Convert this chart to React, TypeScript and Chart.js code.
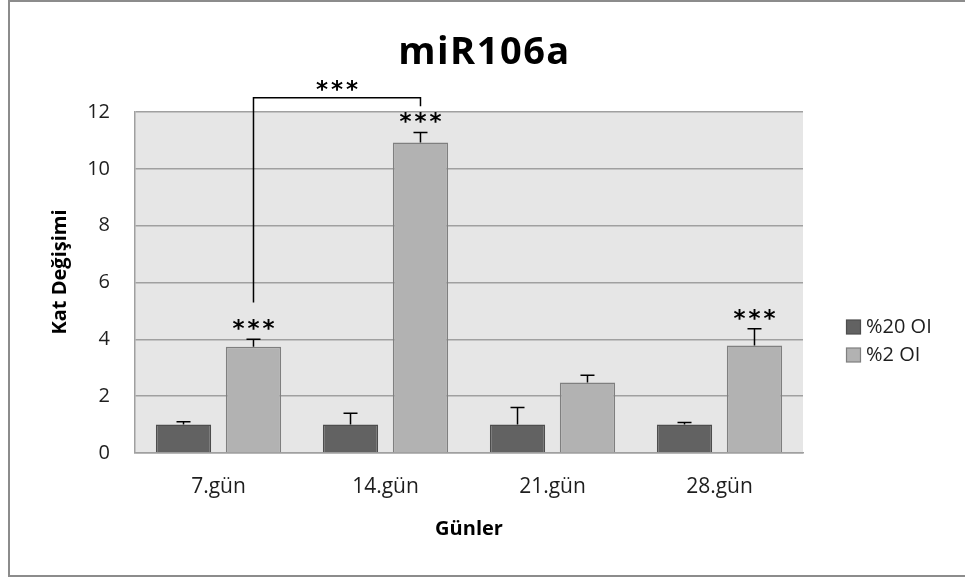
import { useEffect, useRef } from "react";
import { Chart, registerables } from "chart.js";

Chart.register(...registerables);

// Fold change of miR106a at each time point
const categories = ["7.gün", "14.gün", "21.gün", "28.gün"];
const seriesNames = ["%20 OI", "%2 OI"];
const normoxiaValues = [1.0, 1.0, 1.0, 1.0];
const hypoxiaValues = [3.74, 10.93, 2.48, 3.78];
const normoxiaErrors = [0.1, 0.4, 0.6, 0.07];
const hypoxiaErrors = [0.26, 0.35, 0.26, 0.59];
const hypoxiaSignificance = ["***", "***", "", "***"];

// Comparison bracket between two hypoxia bars (values in fold-change units)
const bracketFrom = 0;
const bracketTo = 1;
const bracketLabel = "***";
const bracketTop = 12.5;
const bracketLeftFoot = 5.3;
const bracketRightFoot = 12.2;

const yMin = 0;
const yMax = 12;
const yStep = 2;

const chartTitle = "miR106a";
const xTitle = "Günler";
const yTitle = "Kat Değişimi";

const FONT = "'Open Sans', sans-serif";
const darkFill = "#626262";
const lightFill = "#b2b2b2";

const decorations = {
  id: "decorations",
  beforeDraw(chart: any) {
    const { ctx, chartArea } = chart;
    ctx.save();
    ctx.fillStyle = "#e6e6e6";
    ctx.fillRect(chartArea.left, chartArea.top, chartArea.right - chartArea.left, chartArea.bottom - chartArea.top);
    ctx.restore();
  },
  afterDatasetsDraw(chart: any) {
    const { ctx } = chart;
    const y = chart.scales.y;
    const errs = [normoxiaErrors, hypoxiaErrors];
    const vals = [normoxiaValues, hypoxiaValues];
    ctx.save();
    ctx.strokeStyle = "#000";
    ctx.lineWidth = 1.5;
    for (let d = 0; d < 2; d++) {
      const meta = chart.getDatasetMeta(d);
      meta.data.forEach((bar: any, i: number) => {
        const yb = y.getPixelForValue(vals[d][i]);
        const yt = y.getPixelForValue(vals[d][i] + errs[d][i]);
        ctx.beginPath();
        ctx.moveTo(bar.x, yb);
        ctx.lineTo(bar.x, yt);
        ctx.moveTo(bar.x - 7, yt);
        ctx.lineTo(bar.x + 7, yt);
        ctx.stroke();
      });
    }

    // significance stars above the hypoxia bars
    ctx.fillStyle = "#000";
    ctx.font = "bold 23px 'DejaVu Sans'";
    ctx.textAlign = "center";
    ctx.textBaseline = "middle";
    (ctx as any).letterSpacing = "3px";
    const meta1 = chart.getDatasetMeta(1);
    meta1.data.forEach((bar: any, i: number) => {
      const s = hypoxiaSignificance[i];
      if (!s) return;
      const yt = y.getPixelForValue(hypoxiaValues[i] + hypoxiaErrors[i]);
      ctx.fillText(s, bar.x + 1.5, yt - 9);
    });

    // bracket
    const xa = meta1.data[bracketFrom].x;
    const xb = meta1.data[bracketTo].x;
    const yTop = y.getPixelForValue(bracketTop);
    ctx.beginPath();
    ctx.moveTo(xa, y.getPixelForValue(bracketLeftFoot));
    ctx.lineTo(xa, yTop);
    ctx.lineTo(xb, yTop);
    ctx.lineTo(xb, y.getPixelForValue(bracketRightFoot));
    ctx.stroke();
    ctx.fillText(bracketLabel, (xa + xb) / 2 + 1.5, yTop - 7);
    ctx.restore();
  },
  afterDraw(chart: any) {
    const { ctx, chartArea } = chart;
    ctx.save();
    // outer frame
    ctx.strokeStyle = "#8c8c8c";
    ctx.lineWidth = 2;
    ctx.strokeRect(9, 1, 1000, 575);

    ctx.fillStyle = "#000";
    ctx.textAlign = "center";
    ctx.textBaseline = "middle";
    ctx.font = `bold 38px ${FONT}`;
    (ctx as any).letterSpacing = "1.5px";
    ctx.fillText(chartTitle, chart.width / 2 + 2, 53);
    (ctx as any).letterSpacing = "0px";

    ctx.font = `bold 20px ${FONT}`;
    ctx.fillText(xTitle, (chartArea.left + chartArea.right) / 2, 529);

    ctx.save();
    ctx.translate(60, 272);
    ctx.rotate(-Math.PI / 2);
    ctx.fillText(yTitle, 0, 0);
    ctx.restore();

    // legend
    const fills = [darkFill, lightFill];
    const borders = ["#4d4d4d", "#7f7f7f"];
    ctx.font = `20px ${FONT}`;
    ctx.textAlign = "left";
    seriesNames.forEach((name, i) => {
      const cy = 327 + i * 28;
      ctx.fillStyle = fills[i];
      ctx.fillRect(846.5, cy - 7, 14, 14);
      ctx.strokeStyle = borders[i];
      ctx.lineWidth = 1.2;
      ctx.strokeRect(846.5, cy - 7, 14, 14);
      ctx.fillStyle = "#1e1e1e";
      ctx.fillText(name, 866, cy);
    });
    ctx.restore();
  },
};

export default function App() {
  const ref = useRef<HTMLCanvasElement>(null);
  useEffect(() => {
    if (!ref.current) return;
    const chart = new Chart(ref.current, {
      type: "bar",
      data: {
        labels: categories,
        datasets: [
          {
            label: seriesNames[0],
            data: normoxiaValues,
            backgroundColor: darkFill,
            borderColor: "#4d4d4d",
            borderWidth: 1.5,
          },
          {
            label: seriesNames[1],
            data: hypoxiaValues,
            backgroundColor: lightFill,
            borderColor: "#7f7f7f",
            borderWidth: 1.5,
          },
        ],
      },
      options: {
        responsive: false,
        animation: false,
        layout: { padding: { left: 0, top: 112, right: 162, bottom: 0 } },
        datasets: { bar: { barPercentage: 0.79, categoryPercentage: 0.838 } },
        plugins: { legend: { display: false }, title: { display: false }, tooltip: { enabled: false } },
        scales: {
          x: {
            grid: { display: false, drawTicks: false },
            border: { display: true, color: "#a0a0a0", width: 1.5 },
            ticks: { padding: 21, color: "#1e1e1e", font: { family: FONT, size: 21 } },
            afterFit(scale: any) {
              scale.height = 124;
            },
          },
          y: {
            min: yMin,
            max: yMax,
            grid: { color: "#a0a0a0", lineWidth: 1.5, drawTicks: false },
            border: { display: true, color: "#a0a0a0", width: 1.5 },
            ticks: { stepSize: yStep, padding: 25, color: "#1e1e1e", font: { family: FONT, size: 20 } },
            afterFit(scale: any) {
              scale.width = 135;
            },
          },
        },
      },
      plugins: [decorations],
    });
    return () => chart.destroy();
  }, []);
  return (
    <div style={{ position: "absolute", left: 0, top: 0, width: 965, height: 577, background: "#fff" }}>
      <canvas ref={ref} width={965} height={577} />
    </div>
  );
}
